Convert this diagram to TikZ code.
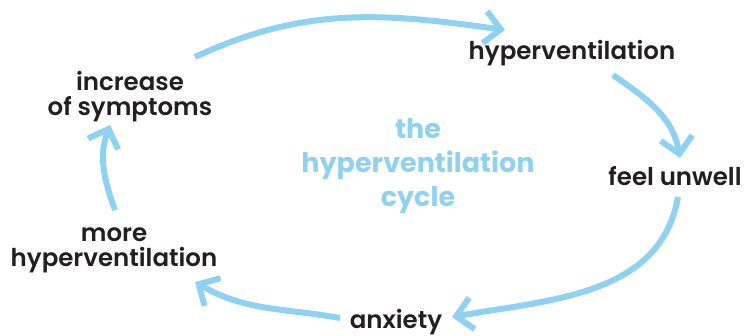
\documentclass[tikz,border=0pt]{standalone}
\usepackage{fontspec}
\setmainfont{Poppins}[UprightFont={* SemiBold}, BoldFont={* Bold}]
\usetikzlibrary{positioning,arrows.meta}
\definecolor{cycleblue}{RGB}{142,209,240}
\definecolor{labelblack}{RGB}{35,31,32}

\begin{document}
\begin{tikzpicture}[
    x=1pt, y=1pt,
    label/.style={text=labelblack, align=center, inner sep=0pt, font=\fontsize{24.5}{25}\selectfont},
    title/.style={text=cycleblue, align=center, inner sep=0pt, font=\fontsize{27}{34}\selectfont\bfseries},
    cyclearrow/.style={draw=cycleblue, line width=6pt, -{Straight Barb[length=16pt, width=32pt]}}
]
\useasboundingbox (0,0) rectangle (753,336);

% Steps
\node[label] (hyper) at (572,283) {hyperventilation};
\node[label] (unwell) at (675,160) {feel unwell};
\node[label] (anxiety) at (396,14) {anxiety};
\node[label] (more) at (114,86) {more\\hyperventilation};
\node[label] (increase) at (130,239) {increase\\of symptoms};

% Title
\node[title] (cycle) at (418,170) {the\\hyperventilation\\cycle};

% Arrows
\draw[cyclearrow] ([shift={(65,40)}]increase.center) to[out=25, in=172] ([shift={(-67,23)}]hyper.center);
\draw[cyclearrow] ([shift={(41,-22)}]hyper.center) to[out=-35, in=100] ([shift={(5,18)}]unwell.center);
\draw[cyclearrow] ([shift={(3,-21)}]unwell.center) to[out=-100, in=10] ([shift={(56,5)}]anxiety.center);
\draw[cyclearrow] ([shift={(-56,4)}]anxiety.center) to[out=170, in=-30] ([shift={(81,-32)}]more.center);
\draw[cyclearrow] ([shift={(1,40)}]more.center) to[out=110, in=-110] ([shift={(-20,-28)}]increase.center);

\end{tikzpicture}
\end{document}
